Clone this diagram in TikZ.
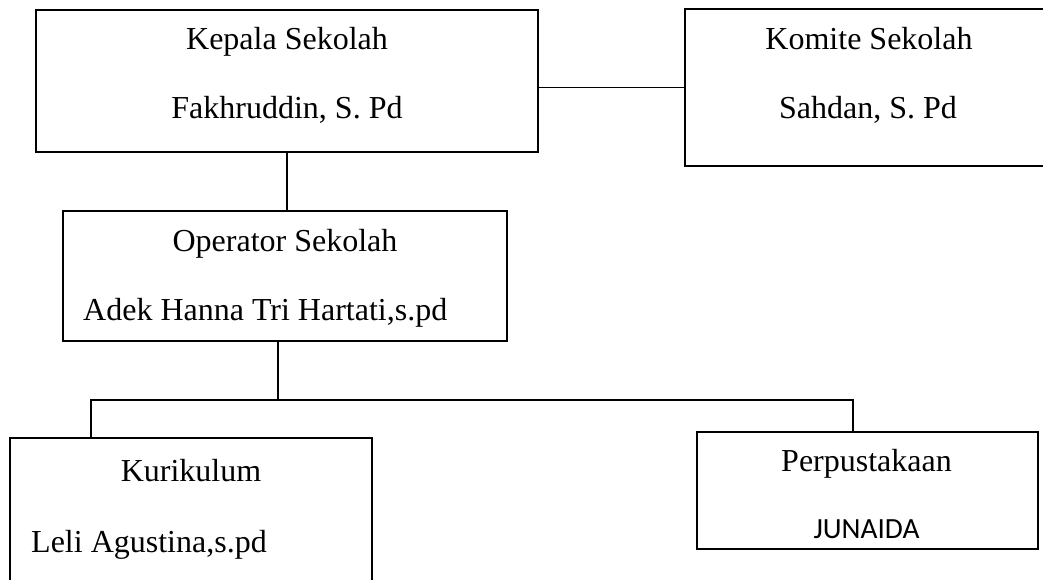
\documentclass[tikz,border=0pt]{standalone}
\usepackage{fontspec}
\setmainfont{Liberation Serif}
\newfontfamily\carlitofont{Carlito}
\begin{document}
\begin{tikzpicture}[x=1pt,y=-1pt,
  box/.style={draw=black, line width=1.8pt, fill=none, rectangle, inner sep=0pt},
  lbl/.style={inner sep=0pt, font=\fontsize{32}{38}\selectfont},
  sanslbl/.style={inner sep=0pt, font=\carlitofont\fontsize{29.3}{35}\selectfont},
  conn/.style={draw=black, line width=1.8pt}]
\useasboundingbox (0,0) rectangle (1043,579);
\fill[white] (0,0) rectangle (1043,579);
% boxes
\node[box, minimum width=502pt, minimum height=141.7pt] (kepala) at (287,80.85) {};
\node[box, minimum width=375pt, minimum height=156.4pt] (komite) at (872.5,87.5) {};
\node[box, minimum width=444pt, minimum height=130.3pt] (operator) at (285,275.85) {};
\node[box, minimum width=362pt, minimum height=172pt] (kurikulum) at (191,524) {};
\node[box, minimum width=341pt, minimum height=117pt] (perpus) at (867.2,490.8) {};
% texts
\node[lbl, anchor=base] (kepalaA) at (287,49) {Kepala Sekolah};
\node[lbl, anchor=base] (kepalaB) at (287,118) {Fakhruddin, S. Pd};
\node[lbl, anchor=base] (komiteA) at (869,49) {Komite Sekolah};
\node[lbl, anchor=base] (komiteB) at (868,118) {Sahdan, S. Pd};
\node[lbl, anchor=base] (operatorA) at (285,251) {Operator Sekolah};
\node[lbl, anchor=base west] (operatorB) at (83,320) {Adek Hanna Tri Hartati,s.pd};
\node[lbl, anchor=base] (kurikulumA) at (191,481.7) {Kurikulum};
\node[lbl, anchor=base west] (kurikulumB) at (31,552.4) {Leli Agustina,s.pd};
\node[lbl, anchor=base] (perpusA) at (866.5,471.7) {Perpustakaan};
\node[sanslbl, anchor=base] (perpusB) at (866.5,538) {JUNAIDA};
% connectors
\coordinate (bus) at (277.7,400);
\coordinate (busL) at (91,400);
\coordinate (busR) at (853.3,400);
\draw[conn] (komite.west -| kepala.east) -- (komite.west);
\draw[conn] (kepala.south) -- (kepala.south |- operator.north);
\draw[conn] (operator.south -| bus) -- (bus);
\draw[conn] (kurikulum.north -| busL) -- (busL) -- (busR) -- (perpus.north -| busR);
\end{tikzpicture}
\end{document}
